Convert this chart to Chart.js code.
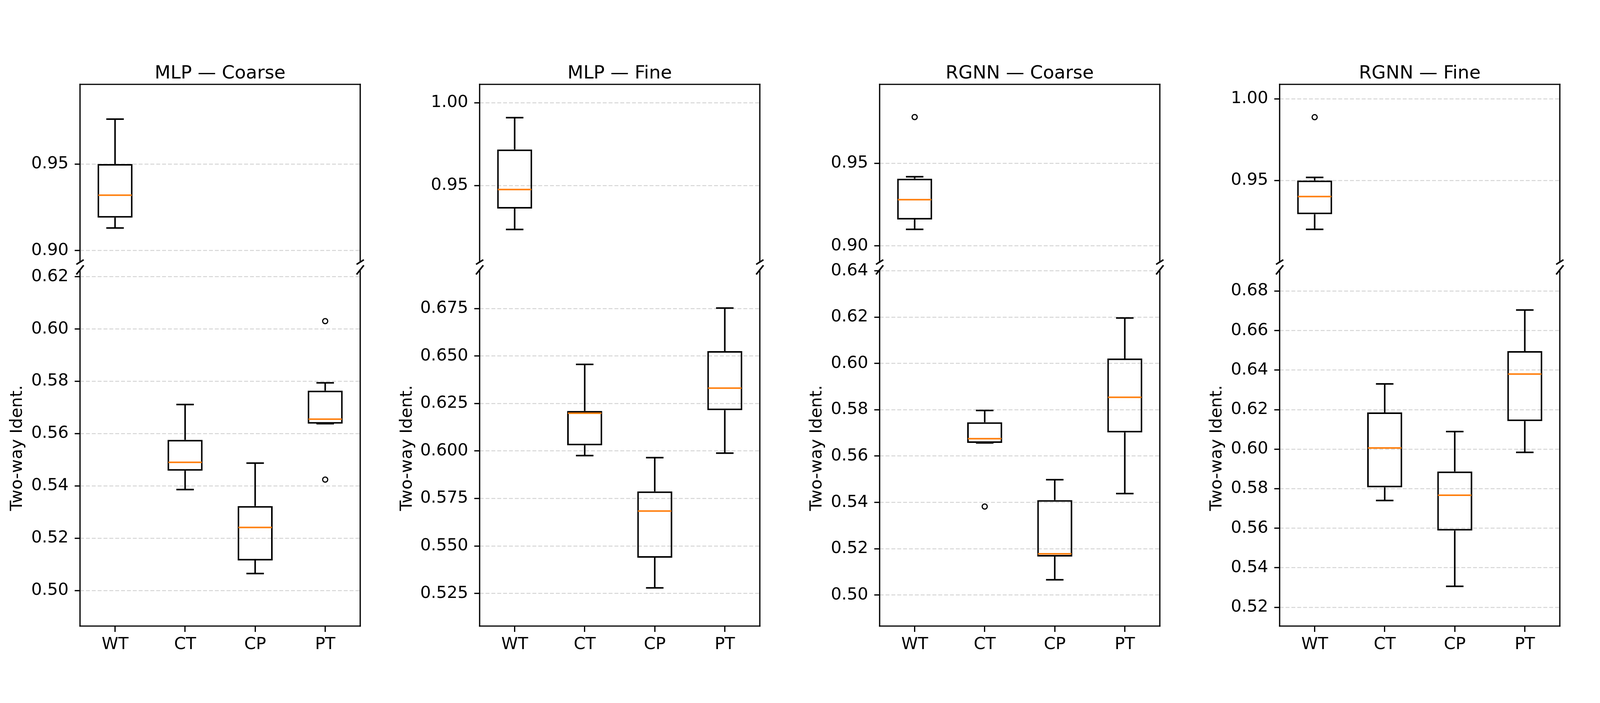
<!DOCTYPE html>
<html>
<head>
<meta charset="utf-8">
<script src="https://cdn.jsdelivr.net/npm/chart.js@4.4.1/dist/chart.umd.min.js"></script>
<style>
  html, body { margin: 0; padding: 0; background: #fff; overflow: hidden; }
  #fig { position: relative; background: #fff; overflow: hidden; }
  #fig canvas { position: absolute; }
</style>
</head>
<body>
<div id="fig"></div>
<script>
// ---- data ----
const groups = ['WT', 'CT', 'CP', 'PT'];
const panelTitles = ['MLP — Coarse', 'MLP — Fine', 'RGNN — Coarse', 'RGNN — Fine'];
const yLabel = 'Two-way Ident.';

// [lower whisker, Q1, median, Q3, upper whisker] for WT, CT, CP, PT
const mlpCoarseBoxes = [
  [0.913, 0.919, 0.932, 0.950, 0.976],
  [0.5386, 0.5458, 0.5490, 0.5576, 0.5711],
  [0.5065, 0.5115, 0.5241, 0.5323, 0.5487],
  [0.5638, 0.5638, 0.5655, 0.5764, 0.5794]
];
const mlpCoarseOutliers = [[], [], [], [0.6030, 0.5424]];

const mlpFineBoxes = [
  [0.9235, 0.9361, 0.9476, 0.9718, 0.9910],
  [0.5976, 0.6030, 0.6199, 0.6211, 0.6456],
  [0.5279, 0.5438, 0.5684, 0.5787, 0.5965],
  [0.5989, 0.6215, 0.6331, 0.6526, 0.6753]
];
const mlpFineOutliers = [[], [], [], []];

const rgnnCoarseBoxes = [
  [0.9100, 0.9160, 0.9280, 0.9407, 0.9419],
  [0.5657, 0.5657, 0.5675, 0.5746, 0.5797],
  [0.5066, 0.5166, 0.5178, 0.5410, 0.5498],
  [0.5438, 0.5702, 0.5854, 0.6021, 0.6196]
];
const rgnnCoarseOutliers = [[0.978], [0.5382], [], []];

const rgnnFineBoxes = [
  [0.9201, 0.9294, 0.9402, 0.9500, 0.9519],
  [0.5740, 0.5807, 0.6006, 0.6186, 0.6330],
  [0.5306, 0.5588, 0.5767, 0.5887, 0.6089],
  [0.5984, 0.6142, 0.6380, 0.6496, 0.6704]
];
const rgnnFineOutliers = [[0.9888], [], [], []];

// y ranges of the upper and lower (broken) axes
const topRanges = [[0.8933, 0.9961], [0.9038, 1.0111], [0.8902, 0.9978], [0.9001, 1.0089]];
const bottomRanges = [[0.4864, 0.6226], [0.5078, 0.6954], [0.4866, 0.6404], [0.5105, 0.6907]];

const topTicks = [['0.90', '0.95'], ['0.95', '1.00'], ['0.90', '0.95'], ['0.95', '1.00']];
const bottomTicks = [
  ['0.50', '0.52', '0.54', '0.56', '0.58', '0.60', '0.62'],
  ['0.525', '0.550', '0.575', '0.600', '0.625', '0.650', '0.675'],
  ['0.50', '0.52', '0.54', '0.56', '0.58', '0.60', '0.62', '0.64'],
  ['0.52', '0.54', '0.56', '0.58', '0.60', '0.62', '0.64', '0.66', '0.68']
];

const panelBoxes = [mlpCoarseBoxes, mlpFineBoxes, rgnnCoarseBoxes, rgnnFineBoxes];
const panelOutliers = [mlpCoarseOutliers, mlpFineOutliers, rgnnCoarseOutliers, rgnnFineOutliers];

// ---- layout, given in pixels of the 4500x1800 figure, then fitted to the window ----
const FIG_W = 4500, FIG_H = 1800;
const W = window.innerWidth || FIG_W;
const H = window.innerHeight || FIG_H;
const SX = W / FIG_W, SY = H / FIG_H;
const SF = (SX + SY) / 2;

const COL_W = 1125 * SX;
const SHIFT = 50 * SX;               // canvas starts a bit left of its column
const CANVAS_W = 1175 * SX;
const Y_AXIS_W = 274.5 * SX;         // plot area starts 224.5px into the column
const PAD_RIGHT = 113 * SX;
const TOP_CANVAS_H = 700 * SY;
const TOP_PAD_BOTTOM = 29 * SY;      // upper plot ends at y=671
const BOTTOM_TOP = 660 * SY;
const BOTTOM_PAD_TOP = 31 * SY;      // lower plot starts at y=691
const X_AXIS_H = 197 * SY;           // lower plot ends at y=1603
const YLABEL_X = [99, 71, 99, 99];   // centre of the y label inside the canvas

const TICK_FONT = Math.round(45 * SF);
const TITLE_FONT = Math.round(49 * SF);
const TITLE_MID = (205 * SY) - 0.346 * TITLE_FONT;   // baseline at y=205
const TITLE_PAD_TOP = TITLE_MID - TITLE_FONT / 2;
const TITLE_PAD_BOTTOM = 216 * SY - TITLE_PAD_TOP - TITLE_FONT;
const XLABEL_PAD = (1006 * SY - 0.346 * TICK_FONT) - (943 * SY + 15 * SY + 0.6 * TICK_FONT);

const FONT = "'DejaVu Sans', sans-serif";

const fig = document.getElementById('fig');
fig.style.width = W + 'px';
fig.style.height = H + 'px';

Chart.defaults.font.family = FONT;
Chart.defaults.color = '#000';

function seg(ctx, x1, y1, x2, y2) {
  ctx.beginPath();
  ctx.moveTo(x1, y1);
  ctx.lineTo(x2, y2);
  ctx.stroke();
}

// whiskers, caps, medians, spines and the break marks
const boxDetails = {
  id: 'boxDetails',
  afterDatasetsDraw(chart, args, opts) {
    const { ctx, scales: { x, y } } = chart;
    const band = x.getPixelForValue(1) - x.getPixelForValue(0);
    ctx.save();
    ctx.lineCap = 'butt';
    opts.stats.forEach((s, i) => {
      if (!s) return;
      const cx = x.getPixelForValue(i);
      const [lo, q1, med, q3, hi] = s.map(v => y.getPixelForValue(v));
      ctx.strokeStyle = '#000';
      ctx.lineWidth = 4;
      seg(ctx, cx, q3, cx, hi);
      seg(ctx, cx, q1, cx, lo);
      seg(ctx, cx - band * 0.125, hi, cx + band * 0.125, hi);
      seg(ctx, cx - band * 0.125, lo, cx + band * 0.125, lo);
      ctx.strokeStyle = '#ff7f0e';
      seg(ctx, cx - band * 0.25 + 2, med, cx + band * 0.25 - 2, med);
    });
    ctx.restore();
  },
  afterDraw(chart, args, opts) {
    const { ctx, chartArea: a } = chart;
    const w = a.right - a.left, h = a.bottom - a.top;
    ctx.save();
    ctx.strokeStyle = '#000';
    ctx.lineWidth = 3.2;
    ctx.lineCap = 'square';
    seg(ctx, a.left, a.top, a.left, a.bottom);
    seg(ctx, a.right, a.top, a.right, a.bottom);
    const edgeY = opts.part === 'top' ? a.bottom : a.top;
    if (opts.part === 'top') seg(ctx, a.left, a.top, a.right, a.top);
    else seg(ctx, a.left, a.bottom, a.right, a.bottom);
    const dx = 0.013 * w, dy = 0.013 * h;
    ctx.lineWidth = 4;
    ctx.lineCap = 'butt';
    [a.left, a.right].forEach(px => seg(ctx, px - dx, edgeY + dy, px + dx, edgeY - dy));
    ctx.restore();
  }
};

function makeChart(panel, part) {
  const isTop = part === 'top';
  const h = Math.round(isTop ? TOP_CANVAS_H : H - BOTTOM_TOP);
  const cw = Math.round(CANVAS_W);
  const canvas = document.createElement('canvas');
  canvas.width = cw;
  canvas.height = h;
  canvas.style.left = (panel * COL_W - SHIFT) + 'px';
  canvas.style.top = (isTop ? 0 : BOTTOM_TOP) + 'px';
  canvas.style.width = cw + 'px';
  canvas.style.height = h + 'px';
  fig.appendChild(canvas);

  const [ymin, ymax] = (isTop ? topRanges : bottomRanges)[panel];
  const tickLabels = (isTop ? topTicks : bottomTicks)[panel];
  const inRange = v => v >= ymin && v <= ymax;
  const boxes = panelBoxes[panel].map(b => (inRange(b[2]) ? b : null));
  const fliers = [];
  panelOutliers[panel].forEach((list, i) => {
    list.forEach(v => { if (inRange(v)) fliers.push({ x: groups[i], y: v }); });
  });

  new Chart(canvas, {
    type: 'bar',
    data: {
      labels: groups,
      datasets: [
        {
          type: 'bar',
          data: boxes.map(b => (b ? [b[1], b[3]] : null)),
          backgroundColor: 'rgba(0,0,0,0)',
          borderColor: '#000',
          borderWidth: 4,
          borderSkipped: false,
          barPercentage: 0.5,
          categoryPercentage: 1.0
        },
        {
          type: 'line',
          data: fliers,
          showLine: false,
          pointStyle: 'circle',
          pointRadius: 6.5,
          pointBorderWidth: 3,
          pointBorderColor: '#000',
          pointBackgroundColor: 'rgba(0,0,0,0)'
        }
      ]
    },
    options: {
      responsive: false,
      animation: false,
      devicePixelRatio: 1,
      events: [],
      layout: {
        padding: isTop
          ? { left: 0, right: PAD_RIGHT, top: 0, bottom: TOP_PAD_BOTTOM }
          : { left: 0, right: PAD_RIGHT, top: BOTTOM_PAD_TOP, bottom: 0 }
      },
      plugins: {
        legend: { display: false },
        tooltip: { enabled: false },
        title: {
          display: isTop,
          text: panelTitles[panel],
          fullSize: false,
          color: '#000',
          font: { size: TITLE_FONT, weight: 'normal', lineHeight: 1 },
          padding: { top: TITLE_PAD_TOP, bottom: TITLE_PAD_BOTTOM }
        },
        boxDetails: { stats: boxes, part: part }
      },
      scales: {
        x: {
          type: 'category',
          display: !isTop,
          offset: true,
          grid: {
            display: true, drawOnChartArea: false, drawTicks: true,
            tickLength: 15 * SY, tickWidth: 3.2, tickColor: '#000', offset: false
          },
          border: { display: false },
          ticks: { font: { size: TICK_FONT }, color: '#000', padding: XLABEL_PAD, autoSkip: false, maxRotation: 0 },
          afterFit: s => { s.height = isTop ? 0 : X_AXIS_H; s.paddingLeft = 0; s.paddingRight = 0; }
        },
        y: {
          type: 'linear',
          min: ymin,
          max: ymax,
          afterBuildTicks: s => { s.ticks = tickLabels.map(t => ({ value: Number(t) })); },
          ticks: {
            callback: (v, i) => tickLabels[i],
            font: { size: TICK_FONT },
            color: '#000',
            padding: 17 * SX,
            autoSkip: false
          },
          grid: {
            color: '#d6d6d6', lineWidth: 2.6,
            tickColor: '#000', tickWidth: 3.2, tickLength: 15 * SX
          },
          border: { display: false, dash: [10, 5] },
          title: {
            display: !isTop,
            text: yLabel,
            color: '#000',
            font: { size: TICK_FONT, lineHeight: 1 },
            padding: { top: YLABEL_X[panel] * SX - TICK_FONT / 2, bottom: 0 }
          },
          afterFit: s => { s.width = Y_AXIS_W; s.paddingTop = 0; s.paddingBottom = 0; }
        }
      }
    },
    plugins: [boxDetails]
  });
}

for (let p = 0; p < 4; p++) {
  makeChart(p, 'top');
  makeChart(p, 'bottom');
}
</script>
</body>
</html>
